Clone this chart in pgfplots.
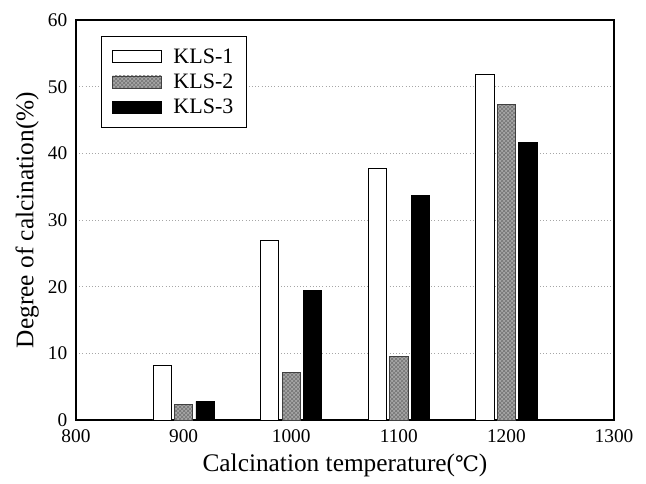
\documentclass[border=0pt]{standalone}
\usepackage{fontspec}
\setmainfont{Liberation Serif}
\newfontfamily\symfont{DejaVu Serif}
\usepackage{pgfplots}
\pgfplotsset{compat=1.18}
\usetikzlibrary{patterns}
\begin{document}
\begin{tikzpicture}
\begin{axis}[
  name=ax,
  scale only axis,
  width=403.5pt, height=300pt,
  xmin=800, xmax=1300, ymin=0, ymax=60,
  xtick={800,900,...,1300}, ytick={0,10,...,60},
  major tick length=0pt,
  ybar, bar width=17,
  ymajorgrids, grid style={dotted, gray!70, line width=0.6pt},
  axis line style={line width=0.8pt},
  /pgf/number format/assume math mode=true,
  /pgf/number format/1000 sep={},
  tick label style={font=\fontsize{14.5}{16}\selectfont},
  xticklabel style={yshift=-4pt},
  yticklabel style={xshift=-3pt},
  label style={font=\fontsize{19}{22}\selectfont},
  xlabel={Calcination temperature({\symfont\fontsize{16}{18}\selectfont ℃})},
  ylabel={Degree of calcination(\%)},
  xlabel style={yshift=-1pt},
  legend style={at={(0.047,0.96)}, anchor=north west, draw=black, line width=0.8pt,
    font=\fontsize{16.5}{19}\selectfont, row sep=2.5pt, inner xsep=8pt, inner ysep=7pt,
    /tikz/every odd column/.style={column sep=7pt}},
  legend cell align=left,
  legend image code/.code={\draw[#1, line width=0.6pt] (0cm,-0.16cm) rectangle (1.27cm,0.16cm);},
]
\addplot[draw=black, fill=white, line width=0.6pt, bar shift=-20] coordinates {
  (900,8.2) (1000,26.9) (1100,37.7) (1200,51.8)};
\addlegendentry{KLS-1}
\addplot[draw=black!75, fill=gray!70, line width=0.6pt, bar shift=0,
  postaction={pattern=crosshatch, pattern color=black!55}] coordinates {
  (900,2.4) (1000,7.2) (1100,9.6) (1200,47.3)};
\addlegendentry{KLS-2}
\addplot[draw=black, fill=black, line width=0.6pt, bar shift=20] coordinates {
  (900,2.8) (1000,19.5) (1100,33.7) (1200,41.6)};
\addlegendentry{KLS-3}
\end{axis}
\path (ax.south west) ++(-57pt,-47.25pt);
\path (ax.north east) ++(24pt,15pt);
\end{tikzpicture}
\end{document}
